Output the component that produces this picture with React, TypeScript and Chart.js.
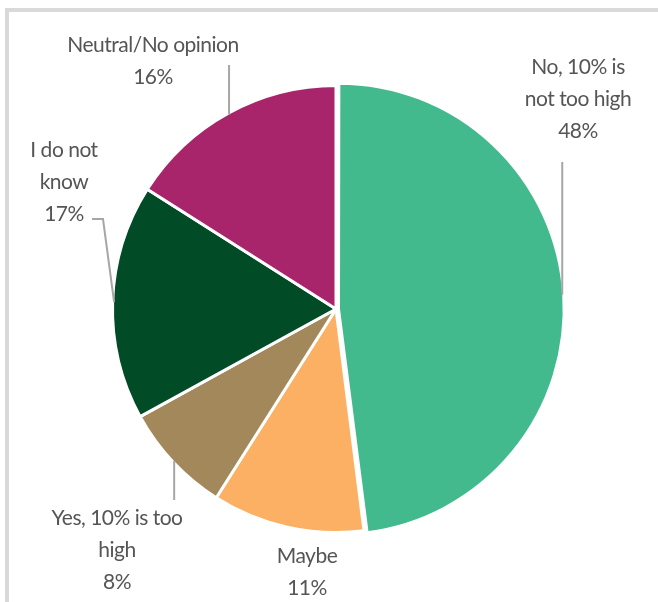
import React, { useEffect, useRef } from "react";
import { Chart, registerables } from "chart.js";

Chart.register(...registerables);

// ---- data ----
const categories = [
  "No, 10% is not too high",
  "Maybe",
  "Yes, 10% is too high",
  "I do not know",
  "Neutral/No opinion",
];
const values = [48, 11, 8, 17, 16];
const labelLines = [
  ["No, 10% is", "not too high"],
  ["Maybe"],
  ["Yes, 10% is too", "high"],
  ["I do not", "know"],
  ["Neutral/No opinion"],
];
const colors = ["#42BA8E", "#FBB063", "#A2885B", "#024B27", "#A8256B"];
const offsets = [10, 0, 0, 0, 0];

// ---- label layout (px relative to pie centre, for radius 223.5) ----
type Leader =
  | { kind: "none" }
  | { kind: "v"; endY: number }
  | { kind: "poly"; pts: [number, number][] };
const labelPos: [number, number][] = [
  [242, -210],
  [-29, 263],
  [-219, 241],
  [-272, -127],
  [-183, -248],
];
const leaders: Leader[] = [
  { kind: "v", endY: -147 },
  { kind: "none" },
  { kind: "v", endY: 191 },
  { kind: "poly", pts: [[-233, -90], [-244, -90]] },
  { kind: "v", endY: -244 },
];

const FONT = "21px Lato";
const LINE_H = 32;
const TEXT_COLOR = "#555555";
const LEADER_COLOR = "#A6A6A6";

const framePlugin = {
  id: "frame",
  beforeDraw(chart: any) {
    const ctx = chart.ctx;
    ctx.save();
    ctx.fillStyle = "#D9D9D9";
    ctx.fillRect(5, 8, chart.width - 5, 4);
    ctx.fillRect(5, 8, 4, chart.height - 8);
    ctx.restore();
  },
};

const labelPlugin = {
  id: "pieLabels",
  afterDatasetsDraw(chart: any) {
    const ctx = chart.ctx;
    const meta = chart.getDatasetMeta(0);
    ctx.save();
    meta.data.forEach((arc: any, i: number) => {
      const { x, y, startAngle, endAngle, outerRadius, circumference } = arc.getProps(
        ["x", "y", "startAngle", "endAngle", "outerRadius", "circumference"],
        true
      );
      const scale = outerRadius / 223.5;
      const mid = (startAngle + endAngle) / 2;
      const off = (arc.options.offset || 0) / 4;
      const fix = 1 - Math.sin(Math.min(Math.PI, circumference || 0));
      const shift = off * (1 + fix);
      const rVis = outerRadius - (arc.options.borderWidth || 0) / 2 + shift;
      const px = x + Math.cos(mid) * rVis;
      const py = y + Math.sin(mid) * rVis;

      // leader line
      const ld = leaders[i];
      ctx.strokeStyle = LEADER_COLOR;
      ctx.lineWidth = 2;
      if (ld.kind === "v") {
        ctx.beginPath();
        ctx.moveTo(px, py);
        ctx.lineTo(px, y + ld.endY * scale);
        ctx.stroke();
      } else if (ld.kind === "poly") {
        ctx.beginPath();
        ctx.moveTo(px, py);
        ld.pts.forEach(([dx, dy]) => ctx.lineTo(x + dx * scale, y + dy * scale));
        ctx.stroke();
      }

      // label text
      const lines = [...labelLines[i], `${values[i]}%`];
      const cx = x + labelPos[i][0] * scale;
      const cy = y + labelPos[i][1] * scale;
      ctx.font = FONT;
      (ctx as any).letterSpacing = "-0.5px";
      ctx.fillStyle = TEXT_COLOR;
      ctx.textAlign = "center";
      ctx.textBaseline = "middle";
      const top = cy - ((lines.length - 1) * LINE_H) / 2;
      lines.forEach((t, k) => ctx.fillText(t, cx, top + k * LINE_H));
    });
    ctx.restore();
  },
};

export default function App() {
  const ref = useRef<HTMLCanvasElement>(null);
  useEffect(() => {
    if (!ref.current) return;
    const chart = new Chart(ref.current, {
      type: "pie",
      data: {
        labels: categories,
        datasets: [
          {
            data: values,
            backgroundColor: colors,
            borderColor: "#FFFFFF",
            borderWidth: 3,
            offset: offsets,
          },
        ],
      },
      options: {
        responsive: false,
        animation: false,
        radius: 223.5,
        layout: { padding: { left: 14, top: 16, right: 0, bottom: 0 } },
        plugins: {
          legend: { display: false },
          tooltip: { enabled: false },
        },
      },
      plugins: [framePlugin, labelPlugin],
    });
    return () => chart.destroy();
  }, []);
  return (
    <div style={{ position: "absolute", left: 0, top: 0, width: 658, height: 602, background: "#fff" }}>
      <canvas ref={ref} width={658} height={602} style={{ display: "block" }} />
    </div>
  );
}
